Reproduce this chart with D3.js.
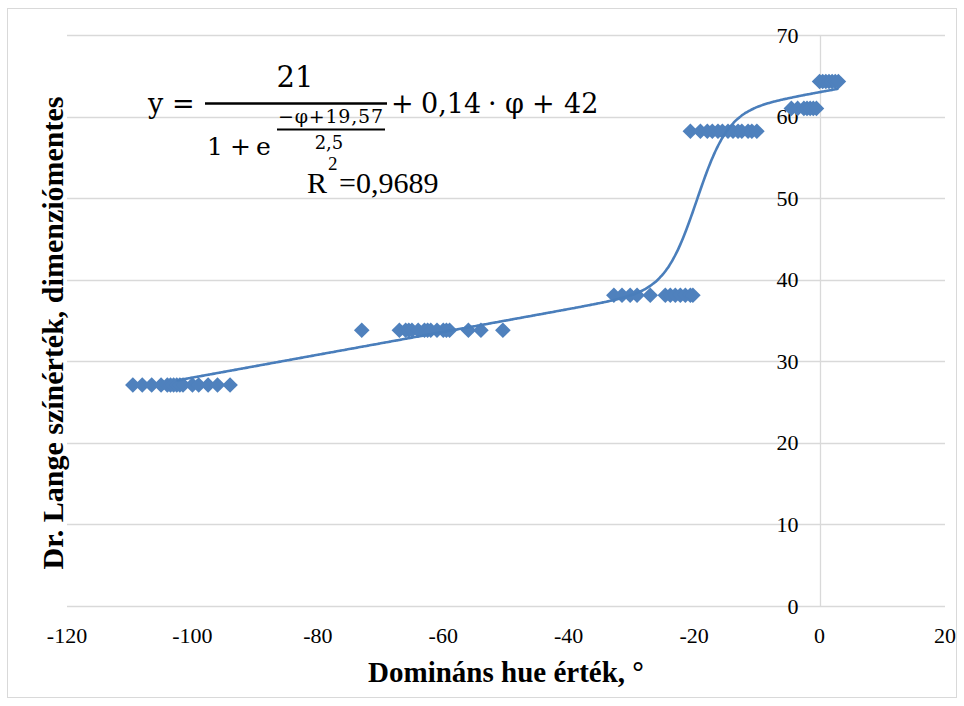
<!DOCTYPE html>
<html>
<head>
<meta charset="utf-8">
<script src="https://cdn.jsdelivr.net/npm/d3@7"></script>
<style>
  body { margin: 0; background: #fff; }
</style>
</head>
<body>
<script>
// Measured points (hue, Lange value)
const hueValues = [
  -109.5, -108, -106.5, -105, -104, -103.5, -103, -102.5, -102, -101.5, -100, -99, -97.5, -96, -94,
  -73, -67, -66, -65.5, -65, -64, -63, -62.5, -62, -61, -60, -59.5, -59, -56, -54, -50.5,
  -32.8, -31.5, -30.2, -29.1, -27, -24.6, -23.8, -23, -22.2, -21.4, -20.6, -20.2,
  -20.6, -19, -17.9, -17.1, -16.2, -15.5, -14.6, -13.8, -13, -12.4, -11.4, -10.8, -10,
  -4.5, -3.5, -2.5, -2, -1.5, -1, -0.5,
  0, 0.5, 1, 1.5, 2, 2.5, 3
];
const langeValues = [
  27.1, 27.1, 27.1, 27.1, 27.1, 27.1, 27.1, 27.1, 27.1, 27.1, 27.1, 27.1, 27.1, 27.1, 27.1,
  33.8, 33.8, 33.8, 33.8, 33.8, 33.8, 33.8, 33.8, 33.8, 33.8, 33.8, 33.8, 33.8, 33.8, 33.8, 33.8,
  38.1, 38.1, 38.1, 38.1, 38.1, 38.1, 38.1, 38.1, 38.1, 38.1, 38.1, 38.1,
  58.2, 58.2, 58.2, 58.2, 58.2, 58.2, 58.2, 58.2, 58.2, 58.2, 58.2, 58.2, 58.2,
  61, 61, 61, 61, 61, 61, 61,
  64.3, 64.3, 64.3, 64.3, 64.3, 64.3, 64.3
];
const xTicks = [-120, -100, -80, -60, -40, -20, 0, 20];
const yTicks = [0, 10, 20, 30, 40, 50, 60, 70];

// trend line parameters as printed on the chart
const fitA = 21, fitCenter = -19.57, fitScale = 2.5, fitSlope = 0.14, fitIntercept = 42;
const fitRange = [-102.5, 3];

const width = 964, height = 706;
const svg = d3.select('body').append('svg')
  .attr('width', width)
  .attr('height', height)
  .attr('font-family', '"Liberation Serif", "Times New Roman", serif');

// chart border
svg.append('rect')
  .attr('x', 7.5).attr('y', 8.5)
  .attr('width', 949).attr('height', 689)
  .attr('fill', 'none')
  .attr('stroke', '#d9d9d9');

const x = d3.scaleLinear().domain([-120, 20]).range([67, 945]);
const y = d3.scaleLinear().domain([0, 70]).range([606, 35]);

// horizontal gridlines
svg.selectAll('.grid')
  .data(yTicks)
  .enter()
  .append('line')
  .attr('x1', x(-120)).attr('x2', x(20))
  .attr('y1', d => Math.round(y(d)) + 0.5)
  .attr('y2', d => Math.round(y(d)) + 0.5)
  .attr('stroke', '#d9d9d9')
  .attr('stroke-width', 1.3);

// vertical axis line at x = 0
svg.append('line')
  .attr('x1', Math.round(x(0)) + 0.5).attr('x2', Math.round(x(0)) + 0.5)
  .attr('y1', y(70)).attr('y2', y(0))
  .attr('stroke', '#d9d9d9')
  .attr('stroke-width', 1.3);

// y tick labels, left of the vertical axis
svg.selectAll('.ylab')
  .data(yTicks)
  .enter()
  .append('text')
  .attr('x', x(0) - 21)
  .attr('y', d => y(d) + 7.5)
  .attr('text-anchor', 'end')
  .attr('font-size', 22)
  .text(d => d);

// x tick labels
svg.selectAll('.xlab')
  .data(xTicks)
  .enter()
  .append('text')
  .attr('x', d => x(d))
  .attr('y', 643)
  .attr('text-anchor', 'middle')
  .attr('font-size', 22)
  .text(d => d);

// axis titles
svg.append('text')
  .attr('x', 506).attr('y', 682)
  .attr('text-anchor', 'middle')
  .attr('font-size', 29)
  .attr('font-weight', 'bold')
  .text('Domináns hue érték, °');

svg.append('text')
  .attr('transform', 'translate(63,333) rotate(-90)')
  .attr('text-anchor', 'middle')
  .attr('font-size', 30)
  .attr('font-weight', 'bold')
  .text('Dr. Lange színérték, dimenziómentes');

// points
const points = hueValues.map((h, i) => ({ h, v: langeValues[i] }));
svg.selectAll('.pt')
  .data(points)
  .enter()
  .append('path')
  .attr('d', d3.symbol().type(d3.symbolSquare).size(122))
  .attr('transform', d => `translate(${x(d.h)},${y(d.v)}) rotate(45)`)
  .attr('fill', '#4f81bd');

// trend line
const fit = phi => fitA / (1 + Math.exp((-phi + fitCenter) / fitScale)) + fitSlope * phi + fitIntercept;
const fitPts = d3.range(fitRange[0], fitRange[1] + 0.01, 0.25).map(p => [p, fit(p)]);
svg.append('path')
  .datum(fitPts)
  .attr('fill', 'none')
  .attr('stroke', '#4a7ebb')
  .attr('stroke-width', 2.6)
  .attr('d', d3.line().x(d => x(d[0])).y(d => y(d[1])).curve(d3.curveMonotoneX));

// equation label, set token by token
const eq = svg.append('g').attr('font-family', '"DejaVu Serif", serif').attr('font-size', 27);
const tok = (tx, ty, s, size) => {
  const t = eq.append('text').attr('x', tx).attr('y', ty).text(s);
  if (size) t.attr('font-size', size);
  return t;
};
tok(148, 113, 'y');
tok(172, 113, '=');
tok(391, 113, '+');
tok(421, 113, '0,14');
tok(488, 113, '·');
tok(505, 113, 'φ');
tok(532, 113, '+');
tok(564, 113, '42');
tok(295, 87, '21', 29).attr('text-anchor', 'middle');
eq.append('line').attr('x1', 205).attr('x2', 387).attr('y1', 103.5).attr('y2', 103.5)
  .attr('stroke', '#000').attr('stroke-width', 2.6);
tok(207, 155, '1', 25);
tok(230, 155, '+', 25);
tok(256, 155, 'e', 25);
tok(278, 123, '−φ+19,57', 19).attr('textLength', 105).attr('lengthAdjust', 'spacing');
eq.append('line').attr('x1', 277).attr('x2', 385).attr('y1', 129.5).attr('y2', 129.5)
  .attr('stroke', '#000').attr('stroke-width', 1.8);
tok(329, 149, '2,5', 18).attr('text-anchor', 'middle');

svg.append('text').attr('x', 307).attr('y', 193).attr('font-size', 30).text('R');
svg.append('text').attr('x', 328).attr('y', 170).attr('font-size', 19).text('2');
svg.append('text').attr('x', 339).attr('y', 193).attr('font-size', 30).text('=0,9689');
</script>
</body>
</html>
